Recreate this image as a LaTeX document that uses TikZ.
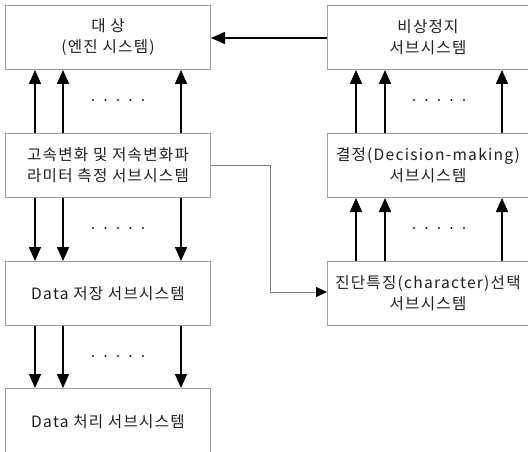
\documentclass[tikz,border=0pt]{standalone}
\usepackage{fontspec}
\setmainfont[LetterSpace=8]{Noto Sans CJK KR}
\usetikzlibrary{arrows.meta}
\definecolor{boxgray}{HTML}{A0A0A0}
\definecolor{linegray}{HTML}{808080}
\definecolor{txt}{HTML}{202020}
\begin{document}
\begin{tikzpicture}[x=1pt,y=-1pt,
  blk/.style={draw=boxgray,line width=1pt,fill=white,minimum width=205pt,minimum height=64pt,
    inner sep=0pt,align=center,text=txt,font=\fontsize{15.6}{21}\selectfont,anchor=north west},
  arr/.style={line width=1.5pt,-{Triangle[length=14pt,width=12pt]}},
  thin/.style={draw=linegray,line width=0.8pt}]
\useasboundingbox (0,0) rectangle (528,452);
% left column
\node[blk] (obj) at (5,5) {대 상\\(엔진 시스템)};
\node[blk] (meas) at (5,133) {고속변화 및 저속변화파\\라미터 측정 서브시스템};
\node[blk] (store) at (5,261) {Data 저장 서브시스템};
\node[blk,minimum height=66pt] (proc) at (5,388) {Data 처리 서브시스템};
% right column
\node[blk,minimum width=201pt] (stop) at (327,5) {비상정지\\서브시스템};
\node[blk,minimum width=201pt] (dec) at (327,133) {결정(Decision-making)\\서브시스템};
\node[blk,minimum width=201pt] (feat) at (327,261) {진단특징(character)선택\\서브시스템};
% vertical arrows left
\foreach \x in {35,63,181}{
  \draw[arr] (meas.north west -| {\x,0}) -- (obj.south west -| {\x,0});
  \draw[arr] (meas.south west -| {\x,0}) -- (store.north west -| {\x,0});
  \draw[arr] (store.south west -| {\x,0}) -- (proc.north west -| {\x,0});
}
% vertical arrows right
\foreach \x in {356,385,502}{
  \draw[arr] (dec.north west -| {\x,0}) -- (stop.south west -| {\x,0});
  \draw[arr] (feat.north west -| {\x,0}) -- (dec.south west -| {\x,0});
}
% dots
\foreach \y in {100,228,356}{
  \foreach \x in {93,105.5,118,130.5,143}{\fill[txt] (\x,\y) circle (1.1pt);}
}
\foreach \y in {100,228}{
  \foreach \x in {414,426.5,439,451.5,464}{\fill[txt] (\x,\y) circle (1.1pt);}
}
% horizontal arrow stop -> obj
\coordinate (sl) at (327,38);
\draw[arr] (sl) -- (obj.east |- sl);
% connector meas -> feat
\coordinate (c1) at (270,165);
\coordinate (c2) at (270,292);
\draw[thin,-{Triangle[length=11pt,width=10pt,color=black]}] (meas.east |- c1) -- (c1) -- (c2) -- (feat.west |- c2);
\end{tikzpicture}
\end{document}
